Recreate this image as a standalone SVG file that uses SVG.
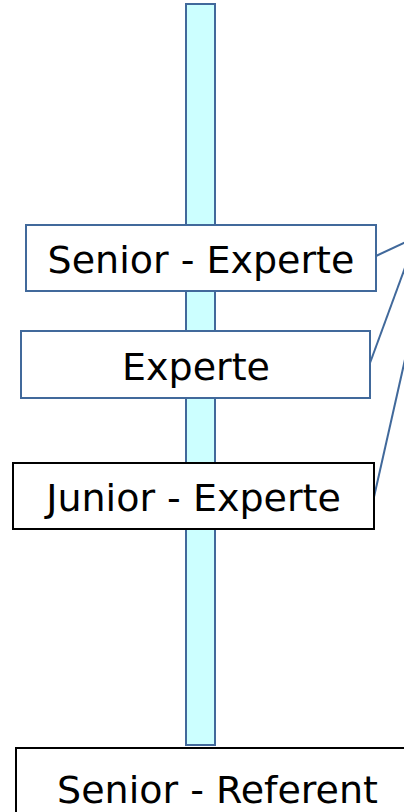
<svg xmlns="http://www.w3.org/2000/svg" width="404" height="812" viewBox="0 0 404 812">
<style>
.bar{fill:#ccffff;stroke:#41699b;stroke-width:2}
.bbox{fill:#fff;stroke:#41699b;stroke-width:2}
.kbox{fill:#fff;stroke:#000;stroke-width:2}
.t{font-family:"DejaVu Sans",Verdana,sans-serif;font-size:38px;fill:#000;text-anchor:middle}
.c{stroke:#41699b;stroke-width:2;fill:none}
</style>
<rect width="404" height="812" fill="#fff"/>
<g id="bar"><rect class="bar" x="186" y="4" width="29" height="741"/></g>
<g id="connectors">
<line class="c" x1="376" y1="256" x2="410" y2="240"/>
<line class="c" x1="370" y1="363" x2="406" y2="265"/>
<line class="c" x1="374" y1="497" x2="406" y2="355"/>
</g>
<g id="senior-experte"><rect class="bbox" x="26" y="225" width="350" height="66"/><text class="t" x="201" y="273">Senior - Experte</text></g>
<g id="experte"><rect class="bbox" x="21" y="331" width="349" height="67"/><text class="t" x="196" y="380">Experte</text></g>
<g id="junior-experte"><rect class="kbox" x="13" y="463" width="361" height="66"/><text class="t" x="193.5" y="511">Junior - Experte</text></g>
<g id="senior-referent"><rect class="kbox" x="16" y="748" width="404" height="80"/><text class="t" x="217.5" y="803">Senior - Referent</text></g>
</svg>
